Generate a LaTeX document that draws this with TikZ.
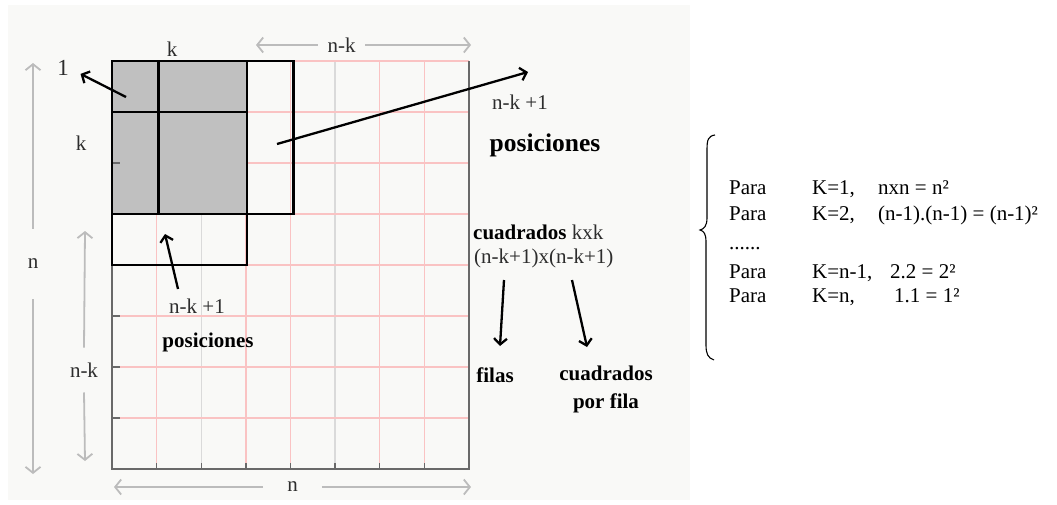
\documentclass[tikz,border=0pt]{standalone}
\usepackage{fontspec}
\setmainfont{Liberation Serif}
\usetikzlibrary{arrows.meta}
\definecolor{gridpink}{RGB}{250,195,195}
\definecolor{gridgray}{RGB}{218,218,218}
\definecolor{dimgray}{RGB}{188,188,188}
\definecolor{boxfill}{RGB}{192,192,192}
\definecolor{axisgray}{RGB}{105,105,105}
\definecolor{bgpaper}{RGB}{249,249,247}
\definecolor{txtgray}{RGB}{45,45,45}
\begin{document}
\begin{tikzpicture}[x=1pt,y=-1pt,
  lbl/.style={inner sep=0pt, text=txtgray, font=\fontsize{21}{25}\selectfont},
  blbl/.style={inner sep=0pt, text=black, font=\fontsize{21}{25}\selectfont\bfseries},
  dimlbl/.style={inner sep=0pt, text=txtgray, font=\fontsize{21}{25}\selectfont, fill=bgpaper},
  dimarrow/.style={draw=dimgray, line width=1.8pt, -{Straight Barb[length=6pt,width=15pt]}},
  pointer/.style={draw=black, line width=2.3pt, -{Straight Barb[length=6pt,width=13pt]}},
  thickbox/.style={draw=black, line width=2.8pt},
  gline/.style={line width=1.3pt},
  tabtxt/.style={inner sep=0pt, anchor=base west, font=\fontsize{21}{25}\selectfont},
]
\useasboundingbox (0,0) rectangle (1057,504);
\fill[white] (0,0) rectangle (1057,504);
\fill[bgpaper] (8,5) rectangle (690,500);

% grid lines
\foreach \i/\c in {1/gridpink,2/gridgray,3/gridpink,4/gridpink,5/gridgray,6/gridpink,7/gridpink}
  \draw[gline,\c] ({112+\i*44.625},61) -- ({112+\i*44.625},469);
\foreach \j in {0,...,7}
  \draw[gline,gridpink] (112,{61+\j*51}) -- (469,{61+\j*51});

% grey k x k square
\fill[boxfill] (112,61) rectangle (247,214);

% axes and ticks
\draw[axisgray, line width=1.6pt] (112,61) -- (112,469) -- (469,469) -- (469,61);
\foreach \i in {1,...,7}
  \draw[axisgray, line width=1.4pt] ({112+\i*44.625},469) -- ({112+\i*44.625},463);
\foreach \j in {1,...,7}
  \draw[axisgray, line width=1.4pt] (112,{61+\j*51}) -- (120,{61+\j*51});

% thick squares
\draw[thickbox] (112,61) rectangle (247,214);
\draw[thickbox] (112,112) rectangle (247,265);
\draw[thickbox] (158.6,61) rectangle (293.5,214);

% dimension labels and arrows
\node[lbl] (ktop) at (172,49) {k};
\node[lbl] (kleft) at (81,143) {k};
\node[lbl, font=\fontsize{23}{27}\selectfont] (one) at (63,68) {1};

\node[dimlbl, inner xsep=9.5pt, inner ysep=2pt] (nktop) at (341.5,45) {n-k};
\coordinate (nkL) at (256,45);
\coordinate (nkR) at (471,45);
\draw[dimarrow] (nktop.west) -- (nkL);
\draw[dimarrow] (nktop.east) -- (nkR);

\node[dimlbl, inner ysep=30pt, inner xsep=2pt] (nleft) at (33,264) {n};
\coordinate (nT) at (33,63);
\coordinate (nB) at (33,474);
\draw[dimarrow] (nleft.north) -- (nT);
\draw[dimarrow] (nleft.south) -- (nB);

\node[dimlbl, inner ysep=15pt, inner xsep=2pt] (nkleft) at (84,370) {n-k};
\coordinate (nkT) at (85,231);
\coordinate (nkB) at (85,461);
\draw[dimarrow] (nkleft.north) -- (nkT);
\draw[dimarrow] (nkleft.south) -- (nkB);

\node[dimlbl, inner xsep=24pt, inner ysep=2pt] (nbot) at (292.5,487) {n};
\coordinate (nbL) at (114,487);
\coordinate (nbR) at (471,487);
\draw[dimarrow] (nbot.west) -- (nbL);
\draw[dimarrow] (nbot.east) -- (nbR);

% pointer to "1"
\coordinate (oneTail) at (126,97);
\draw[pointer, shorten >=13pt] (oneTail) -- (one.east);

% right positions
\node[lbl] (nkr) at (520,102) {n-k +1};
\node[blbl, font=\fontsize{25.5}{30}\selectfont\bfseries] (posr) at (545,145) {posiciones};
\coordinate (bigTail) at (277,144);
\coordinate (bigTip) at (528,72);
\draw[pointer] (bigTail) -- (bigTip);

% lower positions
\node[lbl] (nkd) at (197,306) {n-k +1};
\node[blbl] (posd) at (208,342) {posiciones};
\coordinate (lowTail) at (178,289);
\coordinate (lowTip) at (165,234);
\draw[pointer] (lowTail) -- (lowTip);

% count of squares
\node[lbl, anchor=west] (cuad) at (473,232) {\textcolor{black}{\textbf{cuadrados}} kxk};
\node[lbl, anchor=west] (form) at (474,258) {(n-k+1)x(n-k+1)};
\node[blbl] (filas) at (495,375) {filas};
\node[blbl, align=center, font=\fontsize{21}{28}\selectfont\bfseries] (cpf) at (606,389) {cuadrados\\por fila};
\coordinate (fA) at (504,280);
\coordinate (fAtip) at (500,346);
\coordinate (fB) at (572,280);
\coordinate (fBtip) at (587,347);
\draw[pointer] (fA) -- (fAtip);
\draw[pointer] (fB) -- (fBtip);

% brace
\draw[black, line width=1.1pt] (715,135) .. controls (708,136) and (707,140) .. (707,150)
  -- (707,218) .. controls (707,226) and (704,229) .. (700,230)
  .. controls (704,231) and (706,234) .. (706,242)
  -- (706,345) .. controls (706,354) and (708,358) .. (714,360);

% table
\node[tabtxt] (p1) at (729,194) {Para};
\node[tabtxt] (k1) at (812,194) {K=1,};
\node[tabtxt] (f1) at (878,194) {nxn = n²};
\node[tabtxt] (p2) at (729,220) {Para};
\node[tabtxt] (k2) at (812,220) {K=2,};
\node[tabtxt] (f2) at (878,220) {(n-1).(n-1) = (n-1)²};
\node[tabtxt] (dots) at (729,249) {......};
\node[tabtxt] (p3) at (729,278) {Para};
\node[tabtxt] (k3) at (812,278) {K=n-1,};
\node[tabtxt] (f3) at (890,278) {2.2 = 2²};
\node[tabtxt] (p4) at (729,302) {Para};
\node[tabtxt] (k4) at (812,302) {K=n,};
\node[tabtxt] (f4) at (894,302) {1.1 = 1²};
\end{tikzpicture}
\end{document}
